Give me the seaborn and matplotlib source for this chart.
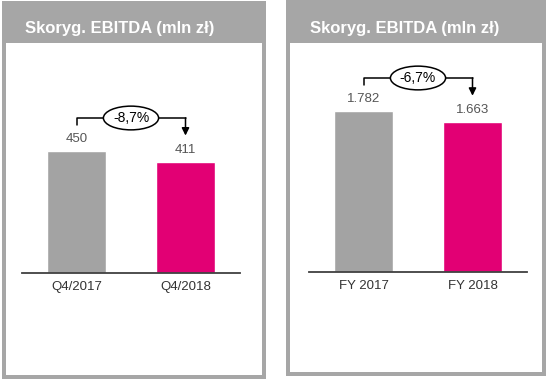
import matplotlib as mpl
mpl.use('Agg')
import matplotlib.pyplot as plt
from matplotlib.patches import Rectangle
import seaborn as sns
import pandas as pd

# data
Q_LABELS = ["Q4/2017", "Q4/2018"]
Q_VALUES = [450, 411]
Q_TEXT = ["450", "411"]
Q_CHANGE = "-8,7%"

FY_LABELS = ["FY 2017", "FY 2018"]
FY_VALUES = [1782, 1663]
FY_TEXT = ["1.782", "1.663"]
FY_CHANGE = "-6,7%"

TITLE = "Skoryg. EBITDA (mln zł)"

GREY = "#a3a3a3"
MAGENTA = "#e20074"
FRAME = "#a6a6a6"

W, H = 549, 381

sns.set_theme(style="white")
plt.rcParams['font.family'] = ['Liberation Sans', 'DejaVu Sans']

fig = plt.figure(figsize=(W / 100, H / 100), dpi=100)


def fx(x):
    return x / W


def fy(y):
    return 1 - y / H


def draw_panel(x0, y0, x1, y1, header_bottom, text_x):
    # grey frame, white inside, grey header band (behind the axes)
    fig.add_artist(Rectangle((fx(x0), fy(y1)), fx(x1 - x0), (y1 - y0) / H,
                             transform=fig.transFigure, facecolor=FRAME,
                             edgecolor="none", zorder=-3))
    fig.add_artist(Rectangle((fx(x0 + 4), fy(y1 - 4)), fx(x1 - x0 - 8),
                             (y1 - y0 - 8) / H, transform=fig.transFigure,
                             facecolor="white", edgecolor="none", zorder=-2))
    fig.add_artist(Rectangle((fx(x0), fy(header_bottom)), fx(x1 - x0),
                             (header_bottom - y0) / H,
                             transform=fig.transFigure, facecolor=FRAME,
                             edgecolor="none", zorder=-1))
    fig.text(fx(text_x), fy(33), TITLE, color="white", fontsize=12,
             fontweight="bold", va="baseline", ha="left")


def draw_chart(rect, labels, values, texts, change, ymax):
    x0, y0, x1, y1 = rect
    ax = fig.add_axes([fx(x0), fy(y1), fx(x1 - x0), (y1 - y0) / H])
    df = pd.DataFrame({"period": labels, "value": values})
    sns.barplot(data=df, x="period", y="value", hue="period",
                palette=[GREY, MAGENTA], width=0.54, legend=False,
                saturation=1, ax=ax)
    ax.set_xlim(-0.5, 1.5)
    ax.set_ylim(0, ymax)
    for s in ["top", "left", "right"]:
        ax.spines[s].set_visible(False)
    ax.spines["bottom"].set_color("#404040")
    ax.spines["bottom"].set_linewidth(1.3)
    ax.set_yticks([])
    ax.set_xlabel("")
    ax.set_ylabel("")
    ax.tick_params(axis="x", length=0, pad=6, labelsize=9.5,
                   labelcolor="#333333")
    ax.patch.set_alpha(0)

    for cont, txt in zip(ax.containers, texts):
        ax.bar_label(cont, labels=[txt], padding=4, fontsize=9.5,
                     color="#555555")

    # pixels per data unit
    k = (y1 - y0) / ymax
    line_y = values[0] + 33 / k
    left_end = values[0] + 26 / k
    tip = values[1] + 26 / k
    ax.plot([0, 0, 1], [left_end, line_y, line_y], color="black", lw=1.1,
            clip_on=False)
    ax.annotate("", xy=(1, tip), xytext=(1, line_y),
                arrowprops=dict(arrowstyle="-|>", color="black", lw=1.1,
                                mutation_scale=11, shrinkA=0, shrinkB=0),
                annotation_clip=False)
    ax.text(0.5, line_y, change, ha="center", va="center", fontsize=10,
            color="black",
            bbox=dict(boxstyle="ellipse,pad=0.1", facecolor="white",
                      edgecolor="black", lw=1.1))
    return ax


draw_panel(2, 1, 266, 379, 43, 25)
draw_panel(286, 0, 546, 376, 43, 310)

draw_chart((22, 60, 240, 273), Q_LABELS, Q_VALUES, Q_TEXT, Q_CHANGE,
           (273 - 60) / (122 / 450))
draw_chart((309, 60, 527, 272), FY_LABELS, FY_VALUES, FY_TEXT, FY_CHANGE,
           (272 - 60) / (161 / 1782))

fig.savefig("out.png", dpi=100)
